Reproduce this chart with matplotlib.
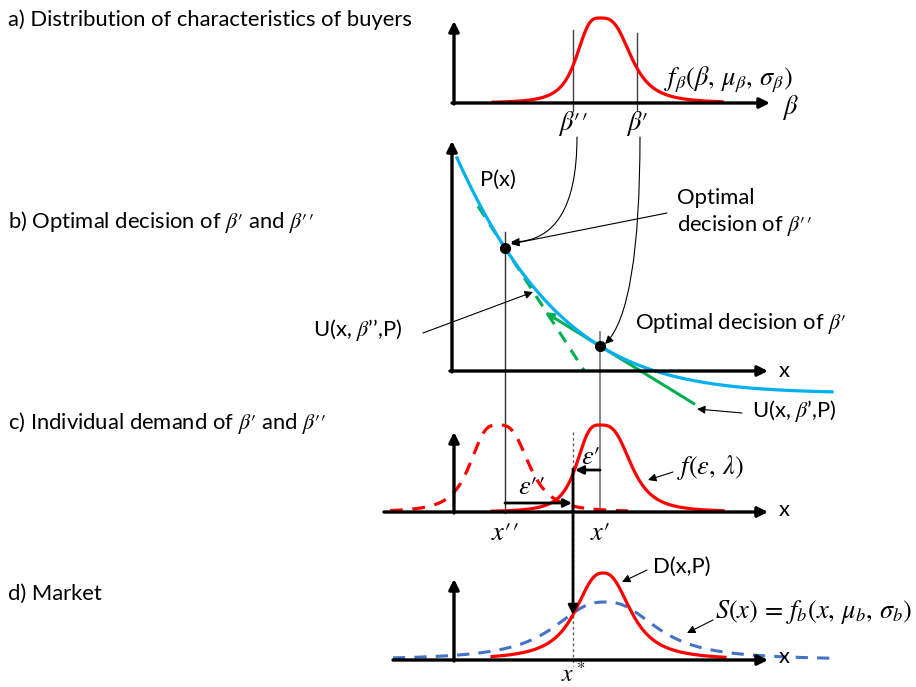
import numpy as np
import matplotlib
matplotlib.use("Agg")
import matplotlib.pyplot as plt
from matplotlib.patches import FancyArrowPatch

plt.rcParams['font.family'] = ['Lato', 'DejaVu Sans']
plt.rcParams['mathtext.fontset'] = 'stix'

# ---------------- data (schematic parameters) ----------------
panel_titles = ["a) Distribution of characteristics of buyers",
                r"b) Optimal decision of $\beta\prime$ and $\beta\prime\prime$",
                r"c) Individual demand of $\beta\prime$ and $\beta\prime\prime$",
                "d) Market"]
# bell shapes: centre, left scale, right scale, exponent, peak height, start, end
beta_density = dict(mu=600, sl=25, sr=33, p=3.2, peak=85, x0=493, x1=722)
demand_prime = dict(mu=600, sl=25, sr=33, p=3.2, peak=87, x0=492, x1=723)
demand_dprime = dict(mu=498, sl=30, sr=33, p=3.2, peak=87, x0=390, x1=628)
market_demand = dict(mu=603, sl=31, sr=31, p=2.5, peak=87, x0=492, x1=725)
market_supply = dict(mu=605, sl=57, sr=57, p=2.5, peak=58, x0=393, x1=835)
# price curve P(x): asymptote and log-quadratic decay coefficients
price_curve = dict(asym=393.0, c0=5.46, c1=-0.01126, c2=-1.26e-5, xa=457, xb=600, x0=457, x1=832)
x_dprime, x_prime, x_star = 505, 600, 573

W, H = 916, 687
fig = plt.figure(figsize=(W / 100, H / 100), dpi=100)
ax = fig.add_axes([0, 0, 1, 1])
ax.set_xlim(0, W)
ax.set_ylim(H, 0)
ax.axis('off')

RED = '#FF0000'
CYAN = '#00B0F0'
GREEN = '#00B050'
BLUE = '#4472C4'
TXT = 15.8
MATH = 19


def bell(prm, base, n=400):
    x = np.linspace(prm['x0'], prm['x1'], n)
    d = x - prm['mu']
    s = np.where(d < 0, prm['sl'], prm['sr'])
    h = prm['peak'] / (1 + np.abs(d / s) ** prm['p'])
    return x, base - h


def price(x, c=price_curve):
    return c['asym'] - np.exp(c['c0'] + c['c1'] * (x - c['xa']) + c['c2'] * (x - c['xa']) * (x - c['xb']))


def arrow(p0, p1, lw=2.2, color='k', ms=14, style='-|>', cs='arc3', ls='-', z=5):
    a = FancyArrowPatch(p0, p1, arrowstyle=style, mutation_scale=ms, lw=lw, color=color,
                        shrinkA=0, shrinkB=0, connectionstyle=cs, linestyle=ls, zorder=z)
    ax.add_patch(a)


def axes_frame(ox, oy, top, right, left=None):
    arrow((ox, oy + 1), (ox, top), lw=2.4, ms=15)
    arrow((left if left is not None else ox - 2, oy), (right, oy), lw=2.4, ms=15)


# panel titles
for t, y in zip(panel_titles, [20, 222, 423, 594]):
    ax.text(8, y, t, fontsize=TXT, va='center', ha='left')

# ---------------- panel a ----------------
axes_frame(454, 103, 21, 770, left=452)
xa, ya = bell(beta_density, 103)
ax.plot(xa, ya, color=RED, lw=2.3, zorder=4)
ax.plot([573, 573], [30, 111], color='#404040', lw=1.0)
ax.plot([637, 637], [33, 111], color='#404040', lw=1.0)
ax.text(573, 123, r"$\beta\prime\prime$", fontsize=MATH, ha='center', va='center')
ax.text(637, 123, r"$\beta\prime$", fontsize=MATH, ha='center', va='center')
ax.text(790, 107, r"$\beta$", fontsize=MATH, ha='center', va='center')
ax.text(664, 80, r"$f_\beta(\beta,\,\mu_\beta,\,\sigma_\beta)$", fontsize=MATH, ha='left', va='center')

# ---------------- panel b ----------------
axes_frame(452, 371, 141, 768)
ax.text(784, 371, "x", fontsize=TXT, ha='center', va='center')
xb = np.linspace(price_curve['x0'], price_curve['x1'], 400)
ax.plot(xb, price(xb), color=CYAN, lw=2.3, zorder=4)
# tangents derived from P(x)
eps = 0.5
slope_dp = (price(x_dprime + eps) - price(x_dprime - eps)) / (2 * eps)
slope_p = (price(x_prime + eps) - price(x_prime - eps)) / (2 * eps)
tx = np.array([478, 584])
ax.plot(tx, price(x_dprime) + slope_dp * (tx - x_dprime), color=GREEN, lw=2.2, ls=(0, (4, 3)), zorder=3)
ts = np.array([545, 694])
arrow((ts[1], price(x_prime) + slope_p * (ts[1] - x_prime)),
      (ts[0], price(x_prime) + slope_p * (ts[0] - x_prime)), lw=2.2, color=GREEN, ms=11, z=3)
# decision verticals
ax.plot([x_dprime, x_dprime], [232, 513], color='#303030', lw=1.0, zorder=2)
ax.plot([x_prime, x_prime], [332, 512], color='#808080', lw=1.3, zorder=2)
ax.plot([x_dprime, x_prime], [price(x_dprime), price(x_prime)], 'o', color='k', ms=7, zorder=6)
ax.text(480, 180, "P(x)", fontsize=TXT, ha='left', va='center')
ax.text(677, 198, "Optimal", fontsize=TXT, ha='left', va='center')
ax.text(677, 226, r"decision of $\beta\prime\prime$", fontsize=TXT, ha='left', va='center')
arrow((667, 213), (511, 244), lw=0.8, ms=12)
ax.text(635, 323, r"Optimal decision of $\beta\prime$", fontsize=TXT, ha='left', va='center')
ax.text(313, 330, r"U(x, $\beta$’’,P)", fontsize=TXT, ha='left', va='center')
arrow((423, 333), (533, 292), lw=0.8, ms=12)
ax.text(752, 411, r"U(x, $\beta$’,P)", fontsize=TXT, ha='left', va='center')
arrow((742, 413), (697, 409), lw=0.8, ms=12)
# curved arrows from beta ticks to the optimal decisions
arrow((577, 137), (511, 242), lw=0.8, ms=12, cs="angle3,angleA=90,angleB=0")
arrow((640, 137), (605, 344), lw=0.8, ms=12, cs="angle3,angleA=90,angleB=45")

# ---------------- panel c ----------------
axes_frame(454, 512, 432, 768, left=384)
ax.text(784, 510, "x", fontsize=TXT, ha='center', va='center')
xc, yc = bell(demand_prime, 512)
ax.plot(xc, yc, color=RED, lw=2.3, zorder=4)
xd, yd = bell(demand_dprime, 512)
ax.plot(xd, yd, color=RED, lw=2.3, ls=(0, (4, 3)), zorder=4)
ax.plot([x_star, x_star], [432, 666], color='#606060', lw=1.0, ls=(0, (2, 2)), zorder=2)
arrow((x_star, 469), (x_star, 615), lw=2.0, ms=14, z=5)
arrow((x_prime, 470), (575, 470), lw=2.0, ms=12)
arrow((x_dprime, 503), (572, 503), lw=2.0, ms=12)
ax.text(591, 456, r"$\varepsilon\prime$", fontsize=MATH, ha='center', va='center')
ax.text(531, 487, r"$\varepsilon\prime\prime$", fontsize=MATH, ha='center', va='center')
ax.text(x_dprime, 533, r"$x\prime\prime$", fontsize=MATH, ha='center', va='center')
ax.text(x_prime, 533, r"$x\prime$", fontsize=MATH, ha='center', va='center')
ax.text(677, 467, r"$f(\varepsilon,\,\lambda)$", fontsize=MATH, ha='left', va='center')
arrow((673, 472), (648, 480), lw=0.8, ms=12)

# ---------------- panel d ----------------
axes_frame(454, 660, 579, 768, left=393)
xs, ys = bell(market_supply, 660)
ax.plot(xs, ys, color=BLUE, lw=2.2, ls=(0, (4, 3)), zorder=3)
xm, ym = bell(market_demand, 660)
ax.plot(xm, ym, color=RED, lw=2.3, zorder=4)
ax.text(784, 657, "x", fontsize=TXT, ha='center', va='center', zorder=6)
ax.text(653, 567, "D(x,P)", fontsize=TXT, ha='left', va='center')
arrow((647, 570), (622, 582), lw=0.8, ms=12)
ax.text(715, 612, r"$S(x)\,=\,f_b(x,\,\mu_b,\,\sigma_b)$", fontsize=MATH, ha='left', va='center')
arrow((713, 620), (687, 633), lw=0.8, ms=12)
ax.text(x_star, 686, r"$x^*$", fontsize=17, ha='center', va='bottom')

fig.savefig("out.png", dpi=100)
